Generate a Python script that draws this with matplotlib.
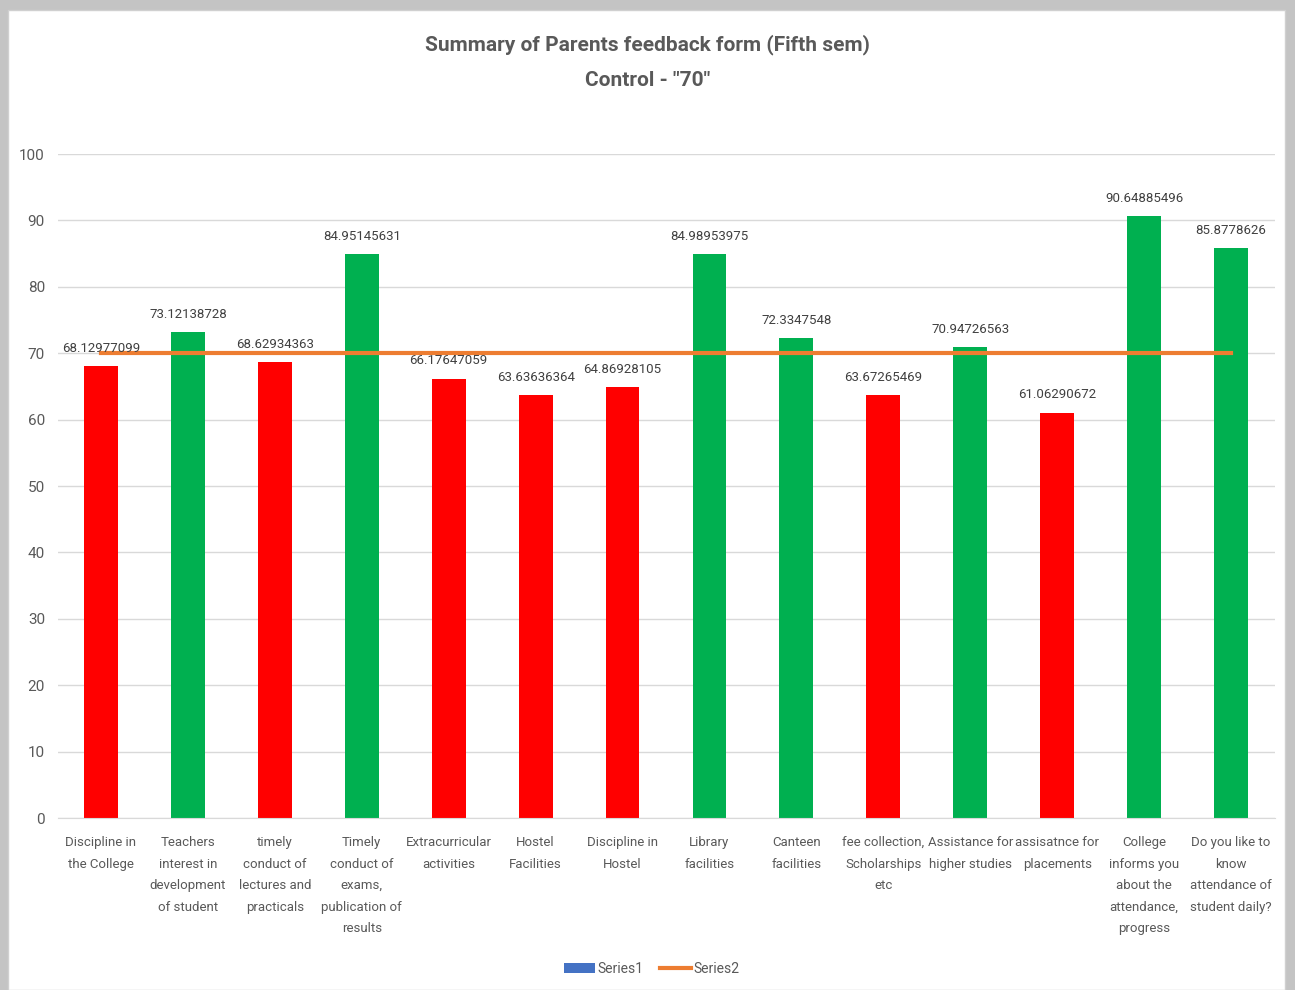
import matplotlib
matplotlib.use("Agg")
import matplotlib.pyplot as plt
from matplotlib.patches import Patch, Rectangle
from matplotlib.lines import Line2D

plt.rcParams["font.family"] = ["Roboto", "DejaVu Sans"]

# dados
categorias = [
    "Discipline in\nthe College",
    "Teachers\ninterest in\ndevelopment\nof student",
    "timely\nconduct of\nlectures and\npracticals",
    "Timely\nconduct of\nexams,\npublication of\nresults",
    "Extracurricular\nactivities",
    "Hostel\nFacilities",
    "Discipline in\nHostel",
    "Library\nfacilities",
    "Canteen\nfacilities",
    "fee collection,\nScholarships\netc",
    "Assistance for\nhigher studies",
    "assisatnce for\nplacements",
    "College\ninforms you\nabout the\nattendance,\nprogress",
    "Do you like to\nknow\nattendance of\nstudent daily?",
]
valores = [68.12977099, 73.12138728, 68.62934363, 84.95145631, 66.17647059,
           63.63636364, 64.86928105, 84.98953975, 72.3347548, 63.67265469,
           70.94726563, 61.06290672, 90.64885496, 85.8778626]
rotulos = ["68.12977099", "73.12138728", "68.62934363", "84.95145631",
           "66.17647059", "63.63636364", "64.86928105", "84.98953975",
           "72.3347548", "63.67265469", "70.94726563", "61.06290672",
           "90.64885496", "85.8778626"]
controle = [70] * len(categorias)
yticks = [0, 10, 20, 30, 40, 50, 60, 70, 80, 90, 100]

VERDE = "#00B050"
VERMELHO = "#FF0000"
LARANJA = "#ED7D31"
AZUL = "#4472C4"
CINZA_TXT = "#595959"

fig = plt.figure(figsize=(12.95, 9.9), dpi=100, facecolor="#C4C4C4")
# area branca do grafico (borda cinza em volta)
fig.patches.append(Rectangle((8 / 1295, 0), 1277 / 1295, 980 / 990,
                             transform=fig.transFigure, facecolor="white",
                             edgecolor="#D0D0D0", lw=1, zorder=-5))

ax = fig.add_axes([57.5 / 1295, 172 / 990, 1217 / 1295, 664 / 990])
ax.set_facecolor("none")

x = list(range(len(categorias)))
cores = [VERDE if v >= 70 else VERMELHO for v in valores]
ax.bar(x, valores, width=0.39, color=cores, zorder=2)
ax.plot(x, controle, color=LARANJA, lw=3, zorder=3)

for xi, v, r in zip(x, valores, rotulos):
    ax.annotate(r, (xi, v), xytext=(0, 8), textcoords="offset points",
                ha="center", va="bottom", fontsize=9.5, color="#404040",
                zorder=4)

ax.set_xlim(-0.5, len(categorias) - 0.5)
ax.set_ylim(0, 100)
ax.set_yticks(yticks)
ax.set_xticks(x)
ax.set_xticklabels(categorias, fontsize=9.5, color=CINZA_TXT, linespacing=1.85)
ax.tick_params(axis="y", length=0, pad=9, labelsize=11, labelcolor=CINZA_TXT)
ax.tick_params(axis="x", length=0, pad=13)
ax.grid(axis="y", color="#D9D9D9", lw=1, zorder=0)
for s in ["top", "right", "left"]:
    ax.spines[s].set_visible(False)
ax.spines["bottom"].set_color("#D9D9D9")

fig.text(0.5, 945 / 990, 'Summary of Parents feedback form (Fifth sem)',
         ha="center", va="center", fontsize=15, fontweight="bold",
         color=CINZA_TXT)
fig.text(0.5, 909 / 990, 'Control - "70"', ha="center", va="center",
         fontsize=15, fontweight="bold", color=CINZA_TXT)

handles = [Patch(facecolor=AZUL, label="Series1"),
           Line2D([0], [0], color=LARANJA, lw=3, label="Series2")]
fig.legend(handles=handles, loc="center", bbox_to_anchor=(652 / 1295, 21 / 990),
           ncol=2, frameon=False, fontsize=10, handlelength=2.2,
           handletextpad=0.2, columnspacing=1.2, labelcolor=CINZA_TXT)

fig.savefig("out.png", dpi=100, facecolor=fig.get_facecolor())
